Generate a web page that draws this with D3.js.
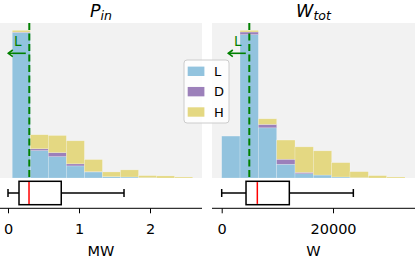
<!DOCTYPE html>
<html>
<head>
<meta charset="utf-8">
<script src="https://cdn.jsdelivr.net/npm/d3@7"></script>
<style>
body { margin: 0; background: #fff; }
text { font-family: "DejaVu Sans", sans-serif; }
</style>
</head>
<body>
<svg id="chart"></svg>
<script>
// data
var groups = ["L", "D", "H"];
var colors = ["#92c3de", "#9c80ba", "#e4d882"];

// P_in histogram (MW)
var pinEdges = [0.06, 0.314, 0.568, 0.822, 1.076, 1.33, 1.584, 1.838, 2.092, 2.346, 2.6];
var pinL = [98.5, 18.6, 14.5, 8.2, 4.1, 0.9, 0.7, 0.2, 0, 0];
var pinD = [0.3, 1.2, 2.7, 1.4, 0.2, 0, 0, 0, 0, 0];
var pinH = [1.2, 9.5, 11.6, 15.6, 8.2, 3.2, 4.8, 1.4, 1.4, 0.7];
var pinBox = [0, 0.155, 0.296, 0.75, 1.634];  // lo whisker, q1, median, q3, hi whisker
var pinThr = 0.30;
var pinTicks = [0, 1, 2];

// W_tot histogram (W)
var wEdges = [0, 3293, 6586, 9879, 13172, 16465, 19758, 23051, 26344, 29637, 32930];
var wL = [28.4, 97.1, 34, 9.3, 2.9, 2, 0.7, 0.2, 0, 0];
var wD = [0, 1.8, 2.3, 3.4, 0.9, 0, 0, 0, 0, 0];
var wH = [0, 1.1, 3.8, 13, 17.3, 16.4, 9.7, 4.1, 1.6, 0.7];
var wBox = [0, 4370, 6400, 12150, 23650];
var wThr = 4960;
var wTicks = [0, 20000];

var svg = d3.select("#chart")
    .attr("width", 415)
    .attr("height", 260);

var histTop = 23, histBottom = 178;
var axisY = 208.3;

function panel(opt) {
    var x = d3.scaleLinear().domain(opt.domain).range([opt.x0, opt.x1]);
    var totals = opt.L.map(function(d, i) { return d + opt.D[i] + opt.H[i]; });
    var y = d3.scaleLinear().domain([0, d3.max(totals) * 1.05]).range([histBottom, histTop]);

    var g = svg.append("g");
    g.append("rect")
        .attr("x", opt.x0).attr("y", histTop)
        .attr("width", opt.x1 - opt.x0).attr("height", histBottom - histTop)
        .attr("fill", "#f2f2f2");

    // stacked bars
    var series = [opt.L, opt.D, opt.H];
    var bins = opt.L.map(function(d, i) { return i; });
    var base = bins.map(function() { return 0; });
    series.forEach(function(vals, s) {
        g.append("g").selectAll("rect")
            .data(bins)
            .enter()
            .append("rect")
            .attr("x", function(i) { return x(opt.edges[i]); })
            .attr("width", function(i) { return x(opt.edges[i + 1]) - x(opt.edges[i]); })
            .attr("y", function(i) { return y(base[i] + vals[i]); })
            .attr("height", function(i) { return y(base[i]) - y(base[i] + vals[i]); })
            .attr("fill", colors[s])
            .attr("stroke", "#ffffff")
            .attr("stroke-opacity", 0.35)
            .attr("stroke-width", 0.6);
        bins.forEach(function(i) { base[i] += vals[i]; });
    });

    // threshold line and "L" marker
    var tx = x(opt.thr);
    g.append("line")
        .attr("x1", tx).attr("x2", tx)
        .attr("y1", histTop).attr("y2", histBottom)
        .attr("stroke", "#008000")
        .attr("stroke-width", 2)
        .attr("stroke-dasharray", "7,3.5");
    g.append("text")
        .attr("x", tx - 11.5).attr("y", 45.5)
        .attr("text-anchor", "middle")
        .style("font-size", "13.5px")
        .attr("fill", "#008000")
        .text("L");
    g.append("line")
        .attr("x1", tx - 3.5).attr("x2", tx - 21)
        .attr("y1", 53.3).attr("y2", 53.3)
        .attr("stroke", "#008000").attr("stroke-width", 1.6);
    g.append("path")
        .attr("d", "M" + (tx - 16.5) + "," + 50 + "L" + (tx - 21) + "," + 53.3 + "L" + (tx - 16.5) + "," + 56.6)
        .attr("fill", "none")
        .attr("stroke", "#008000").attr("stroke-width", 1.6);

    // title
    var title = g.append("text")
        .attr("x", (opt.x0 + opt.x1) / 2)
        .attr("y", 17)
        .attr("text-anchor", "middle")
        .style("font-size", "17.5px")
        .style("font-style", "italic");
    title.append("tspan").text(opt.title[0]);
    title.append("tspan").attr("dy", 3).style("font-size", "12.5px").text(opt.title[1]);

    // box plot
    var b = opt.box;
    var bc = 193, bh = 23.4, ch = 8;
    var bg = g.append("g").attr("fill", "none").attr("stroke", "#000").attr("stroke-width", 1.5);
    bg.append("line").attr("x1", x(b[0])).attr("x2", x(b[1])).attr("y1", bc).attr("y2", bc);
    bg.append("line").attr("x1", x(b[3])).attr("x2", x(b[4])).attr("y1", bc).attr("y2", bc);
    bg.append("line").attr("x1", x(b[0])).attr("x2", x(b[0])).attr("y1", bc - ch / 2).attr("y2", bc + ch / 2);
    bg.append("line").attr("x1", x(b[4])).attr("x2", x(b[4])).attr("y1", bc - ch / 2).attr("y2", bc + ch / 2);
    bg.append("rect")
        .attr("x", x(b[1])).attr("width", x(b[3]) - x(b[1]))
        .attr("y", bc - bh / 2).attr("height", bh);
    g.append("line")
        .attr("x1", x(b[2])).attr("x2", x(b[2]))
        .attr("y1", bc - bh / 2 + 0.8).attr("y2", bc + bh / 2 - 0.8)
        .attr("stroke", "#ff0000").attr("stroke-width", 1.5);

    // bottom axis
    var ax = g.append("g")
        .attr("transform", "translate(0," + axisY + ")")
        .call(d3.axisBottom(x).tickValues(opt.ticks).tickSize(5).tickPadding(10).tickFormat(d3.format("d")));
    ax.select(".domain").attr("d", "M" + opt.x0 + ",0H" + opt.x1).attr("stroke-width", 1);
    ax.selectAll(".tick line").attr("stroke-width", 1);
    ax.selectAll(".tick text").style("font-size", "14.5px").attr("fill", "#000");

    g.append("text")
        .attr("x", (opt.x0 + opt.x1) / 2)
        .attr("y", 255.5)
        .attr("text-anchor", "middle")
        .style("font-size", "14.5px")
        .text(opt.unit);
}

panel({
    x0: 0, x1: 202, domain: [-8 / 71, 194 / 71],
    edges: pinEdges, L: pinL, D: pinD, H: pinH,
    box: pinBox, thr: pinThr, ticks: pinTicks,
    title: ["P", "in"], unit: "MW"
});

panel({
    x0: 212, x1: 415, domain: [-9.7 / 0.005566, 193.3 / 0.005566],
    edges: wEdges, L: wL, D: wD, H: wH,
    box: wBox, thr: wThr, ticks: wTicks,
    title: ["W", "tot"], unit: "W"
});

// legend
var leg = svg.append("g");
leg.append("rect")
    .attr("x", 184).attr("y", 60).attr("width", 45).attr("height", 63)
    .attr("rx", 3)
    .attr("fill", "#fff").attr("fill-opacity", 0.8)
    .attr("stroke", "#cccccc");
groups.forEach(function(name, i) {
    var cy = 71.3 + i * 20.35;
    leg.append("rect")
        .attr("x", 187.7).attr("y", cy - 4.7)
        .attr("width", 16.7).attr("height", 9.4)
        .attr("fill", colors[i]);
    leg.append("text")
        .attr("x", 214).attr("y", cy)
        .attr("dy", "0.36em")
        .style("font-size", "13px")
        .text(name);
});
</script>
</body>
</html>
